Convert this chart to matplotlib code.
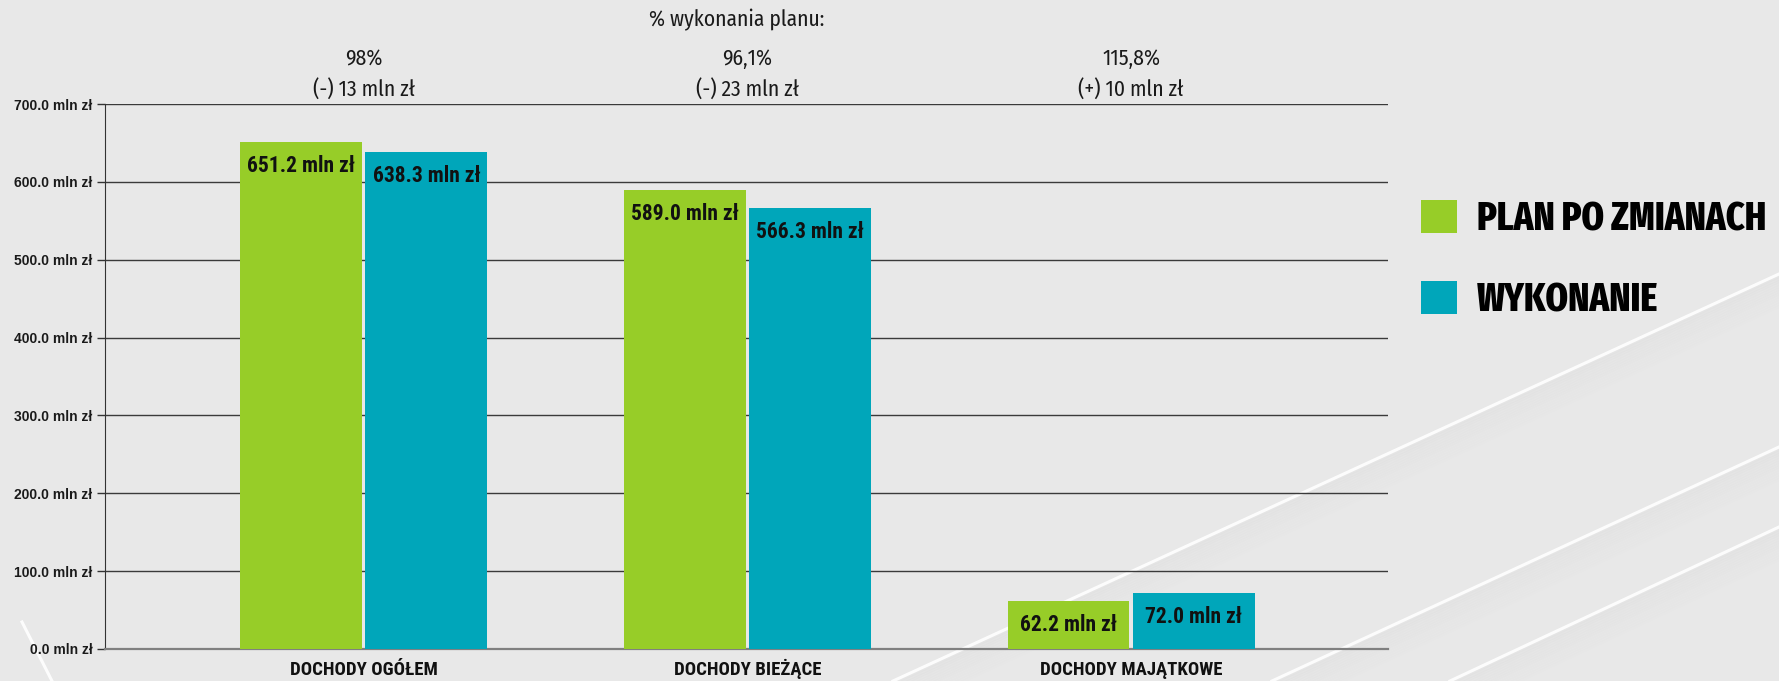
import matplotlib
matplotlib.use('Agg')
import matplotlib.pyplot as plt
import matplotlib.transforms as mtransforms
from matplotlib.lines import Line2D
from matplotlib import font_manager as fm
import numpy as np

# --- dane ---
kategorie = ['DOCHODY OGÓŁEM', 'DOCHODY BIEŻĄCE', 'DOCHODY MAJĄTKOWE']
plan = [651.2, 589.0, 62.2]
wykonanie = [638.3, 566.3, 72.0]
procent = ['98%', '96,1%', '115,8%']
roznica = ['(-) 13 mln zł', '(-) 23 mln zł', '(+) 10 mln zł']
yticki = [0, 100, 200, 300, 400, 500, 600, 700]
serie = ['PLAN PO ZMIANACH', 'WYKONANIE']

ZIELONY = '#97CD28'
TURKUS = '#00A6BA'
TLO = '#E8E8E8'


def pick_bold(cands):
    # pierwsza rodzina, która ma prawdziwy krój pogrubiony
    for c in cands:
        for f in fm.fontManager.ttflist:
            w = f.weight
            if isinstance(w, str):
                w = fm.weight_dict.get(w, 400)
            if f.name == c and w >= 700 and f.style == 'normal':
                return c
    return 'DejaVu Sans'


NARROW = [pick_bold(['Liberation Sans Narrow', 'Arial Narrow', 'Roboto Condensed',
                     'PT Sans Narrow', 'Archivo Narrow', 'IBM Plex Sans Condensed',
                     'Pragati Narrow', 'Asap Condensed', 'Fira Sans Condensed']),
          'DejaVu Sans']
SANS = ['Liberation Sans', 'DejaVu Sans']
FIRA = ['Fira Sans Condensed', 'DejaVu Sans']
FIRA_X = ['Fira Sans Extra Condensed', 'DejaVu Sans']

W, H = 1779, 681
fig = plt.figure(figsize=(W / 100, H / 100), dpi=100, facecolor=TLO)

# dekoracyjne ukośne linie w tle (z lekkim cieniem)
for (x0, y0, x1, y1) in [(893, 681, 1779, 274), (1272, 681, 1779, 447),
                         (1450, 681, 1779, 527)]:
    for k in range(1, 14):
        fig.add_artist(Line2D([x0 / W, x1 / W], [1 - (y0 + 2.5 * k) / H, 1 - (y1 + 2.5 * k) / H],
                              transform=fig.transFigure, color='#9a9a9a',
                              lw=2.5, alpha=0.035 * (1 - k / 14), zorder=-2))
for (x0, y0, x1, y1) in [(893, 681, 1779, 274), (1272, 681, 1779, 447),
                         (1450, 681, 1779, 527), (22, 622, 52, 681)]:
    fig.add_artist(Line2D([x0 / W, x1 / W], [1 - y0 / H, 1 - y1 / H],
                          transform=fig.transFigure, color='white',
                          lw=2.2, alpha=0.9, zorder=-1))

ax = fig.add_axes([105 / W, 1 - 649 / H, (1388 - 105) / W, (649 - 104) / H])
ax.set_facecolor('none')

x = np.arange(len(kategorie))
bw = 0.318
b1 = ax.bar(x - 0.163, plan, bw, color=ZIELONY, zorder=3, label=serie[0])
b2 = ax.bar(x + 0.163, wykonanie, bw, color=TURKUS, zorder=3, label=serie[1])

for bars in (b1, b2):
    for r in bars:
        v = r.get_height()
        ax.annotate(f'{v:.1f} mln zł', (r.get_x() + r.get_width() / 2, v),
                    xytext=(0, -24), textcoords='offset pixels',
                    ha='center', va='center', fontsize=15.5, fontweight='bold',
                    family=NARROW, color='#111111', zorder=4)

ax.set_xlim(-0.675, 2.67)
ax.set_ylim(0, 700)
ax.set_yticks(yticki)
ax.set_yticklabels([f'{v:.1f} mln zł' for v in yticki], fontsize=10,
                   fontweight='bold', family=SANS, color='#1a1a1a')
ax.tick_params(axis='y', length=6, width=1, color='#333333', pad=3)
ax.set_xticks(x)
ax.set_xticklabels(kategorie, fontsize=13.5, fontweight='bold', family=NARROW,
                   color='#111111', va='baseline')
ax.tick_params(axis='x', length=0, pad=19)
ax.grid(axis='y', color='#3a3a3a', lw=1, zorder=1)
ax.set_axisbelow(True)
for s in ['top', 'right']:
    ax.spines[s].set_visible(False)
ax.spines['left'].set_color('#333333')
ax.spines['bottom'].set_color('#808080')
ax.spines['bottom'].set_linewidth(1.6)

# opisy % wykonania planu
tr = mtransforms.blended_transform_factory(ax.transData, fig.transFigure)
fig.text(737 / W, 1 - 20 / H, '% wykonania planu:', ha='center', va='center',
         fontsize=15.5, family=FIRA, color='#1a1a1a')
for i in range(len(kategorie)):
    ax.text(x[i], 1 - 59 / H, procent[i], transform=tr, ha='center', va='center',
            fontsize=15.5, family=FIRA, color='#1a1a1a')
    ax.text(x[i], 1 - 89 / H, roznica[i], transform=tr, ha='center', va='center',
            fontsize=15.5, family=FIRA, color='#1a1a1a')

leg = fig.legend(handles=[b1, b2], labels=serie, loc='upper left',
                 bbox_to_anchor=(1421 / W, 1 - 200 / H), frameon=False,
                 prop={'family': FIRA_X, 'weight': 'heavy', 'size': 28},
                 handlelength=0.93, handleheight=0.93, handletextpad=0.5,
                 labelspacing=1.08, borderpad=0, borderaxespad=0)

fig.savefig('out.png', dpi=100, facecolor=TLO)
